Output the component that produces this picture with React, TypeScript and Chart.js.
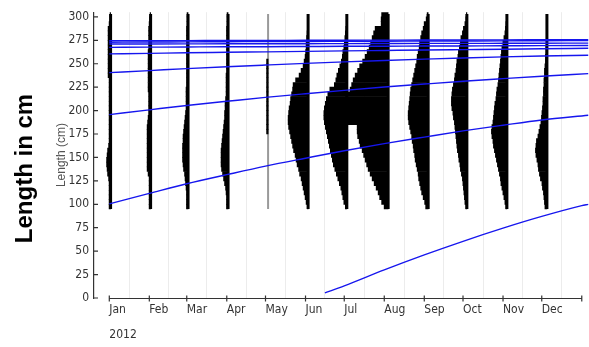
import { useEffect, useRef } from 'react';
import { Chart, registerables } from 'chart.js';

Chart.register(...registerables);

const FONT = '"Liberation Sans Narrow", "DejaVu Sans Condensed", "Liberation Sans", Arial, sans-serif';

const monthLabels = ['Jan', 'Feb', 'Mar', 'Apr', 'May', 'Jun', 'Jul', 'Aug', 'Sep', 'Oct', 'Nov', 'Dec'];
const yearLabel = '2012';
const monthStartDays = [0, 31, 60, 91, 121, 152, 182, 213, 244, 274, 305, 335, 366];
const yTickValues = [0, 25, 50, 75, 100, 125, 150, 175, 200, 225, 250, 275, 300];

// length-frequency bins (cm, bin centres)
const lengthBins = [
  97.5, 102.5, 107.5, 112.5, 117.5, 122.5, 127.5, 132.5, 137.5, 142.5,
  147.5, 152.5, 157.5, 162.5, 167.5, 172.5, 177.5, 182.5, 187.5, 192.5,
  197.5, 202.5, 207.5, 212.5, 217.5, 222.5, 227.5, 232.5, 237.5, 242.5,
  247.5, 252.5, 257.5, 262.5, 267.5, 272.5, 277.5, 282.5, 287.5, 292.5,
  297.5, 302.5,
];

// sampling day (day of year 2012) for each monthly sample
const sampleDays = [1, 32, 61, 92, 123, 154, 184, 216, 247, 277, 308, 339];
const sampleLineRange = [95, 303];

// relative frequencies per bin
const freqJan = [1.5,1.5,1.5,1.5,1.5,1.5,2,3,3.5,4,4,3.5,3,2,1.5,1.5,1.5,1.5,1.5,1.5,1.5,1.5,1.5,1.5,1.5,1.5,1.5,1.5,2.5,2.5,2.5,2.5,2.5,2.5,2.5,2.5,2.5,2.5,2.5,1.5,0.5,0.5];
const freqFeb = [1.5,1.5,1.5,1.5,1.5,1.5,1.5,2.5,3.5,3.5,3.5,3.5,3.5,3.5,3.5,3.5,3.5,3.5,3,2.5,2,2,2,2,2,2.5,2.5,2.5,2.5,2.5,2.5,2.5,2.5,2.5,2,2,2,2,2,1.5,1,0.5];
const freqMar = [1.5,1.5,1.5,1.5,2,2.5,3,3.5,4.5,5,5.5,5.5,5.5,5.5,5,5,4.5,4,3.5,3,2.5,2,2,2,2,2,1.5,1.5,1.5,1.5,1.5,1.5,1.5,1.5,1.5,1.5,1.5,1.5,1.5,1,1,1];
const freqApr = [1.5,1.5,1.5,2,2.5,3.5,4.5,5.5,6.5,7,7,7,7,6.5,6,5.5,5,4.5,4,3.5,3.5,3,3,2.5,2,2,2,2,2,1.5,1.5,1.5,1.5,1.5,1.5,1.5,1.5,1.5,1.5,1,1,1];
const freqMay = [0,0,0,0,0,0,0,0,0,0,0,0,0,0,0,0,1.5,1.5,1.5,1.5,1.5,1.5,1.5,1.5,1.5,1.5,1.5,1.5,1.5,1.5,1.5,1.5,0,0,0,0,0,0,0,0,0,0];
const freqJun = [0.5,2,3,4,5,6,7,8.5,9.5,11,12,13,14.5,15.5,16.5,17.5,18.5,19.5,20,20,19.5,19,18,17.5,16.5,15.5,15,12.5,9,7,5,4,3,2.5,2,2,1.5,1,0.5,0.5,0,0];
const freqJul = [1.5,3,4,5,6,7.5,9,10.5,12,13.5,14.5,15.5,16.5,17.5,18.5,19.5,20.5,21.5,22.5,23,23,22.5,21.5,20.5,19,17,12.5,11,10,8.5,7,5.5,4.5,4,3,2.5,2,1.5,1,0.5,0,0];
const freqAug = [4,6.5,8.5,10,12,14,16,18,20,21.5,23,24.5,26,28,29,30.5,31,31,42,43,43,43,42,42,41,38,36.5,35,33,30.5,28.5,25.5,23,21,19,17.5,16,14.5,13,7,7,6.5];
const freqSep = [2.5,3.5,5,6.5,7.5,8.5,9.5,10,11,12,13,13.5,14.5,15,16,16.5,17.5,18.5,19.5,20,20,19.5,19,18.5,18,17.5,16.5,15.5,14.5,13.5,12.5,11.5,11,10,9,8.5,7.5,6.5,5,4,2,1];
const freqOct = [1,2,2.5,3,3.5,4,4.5,5.5,6.5,7,8,8.5,9.5,10,10.5,11,11.5,12,12.5,13.5,14,15,15.5,15.5,15,14.5,13.5,12.5,12,11,10.5,10,9,8.5,7.5,6.5,6,4.5,3.5,2,1,0.5];
const freqNov = [1,2,3,4,5,6,6.5,7.5,8.5,9.5,10.5,11.5,12.5,13.5,14,15,15.5,15,14,13.5,13,12.5,12,11,10.5,10,9,8.5,8,7.5,7,6.5,6,5.5,5,4,3,2,1.5,1,0.5,0];
const freqDec = [2,2.5,3,3.5,4.5,5,6.5,7.5,8.5,9,10,11,11.5,11,10.5,9,8,7,6,5.5,5,4.5,4,4,3.5,3.5,3,3,2.5,2.5,2,1.5,1.5,1,1,0.5,0.5,0,0,0,0,0];
const monthlyFreqs = [freqJan, freqFeb, freqMar, freqApr, freqMay, freqJun, freqJul, freqAug, freqSep, freqOct, freqNov, freqDec];

// growth curves (cm) at day-of-year points
const curveDays = [0, 31, 60, 91, 121, 152, 182, 213, 244, 274, 305, 335, 371];
const cohortA = [100.5, 111.6, 121.9, 131.6, 140.7, 149.2, 157.2, 164.7, 171.7, 178.3, 184.4, 190, 195];
const cohortB = [195.7, 200.8, 205.5, 209.9, 214.1, 218, 221.6, 225.1, 228.3, 231.3, 234.1, 236.7, 239.5];
const cohortC = [240.5, 242.7, 244.8, 246.8, 248.6, 250.4, 252, 253.5, 254.9, 256.2, 257.3, 258.2, 259];
const cohortD = [260.5, 261.1, 261.7, 262.2, 262.7, 263.2, 263.7, 264.2, 264.7, 265.1, 265.5, 266, 266.5];
const cohortE = [267.5, 267.7, 267.9, 268.1, 268.2, 268.4, 268.6, 268.7, 268.9, 269, 269.2, 269.3, 269.5];
const cohortF = [271, 271.1, 271.2, 271.3, 271.3, 271.4, 271.5, 271.6, 271.7, 271.7, 271.8, 271.9, 272];
const cohortG = [273, 273.2, 273.3, 273.5, 273.6, 273.8, 273.9, 274, 274.2, 274.3, 274.4, 274.6, 274.7];
const cohortH = [274.5, 274.6, 274.7, 274.8, 274.9, 275, 275.1, 275.2, 275.3, 275.4, 275.5, 275.6, 275.7];
const cohorts = [cohortA, cohortB, cohortC, cohortD, cohortE, cohortF, cohortG, cohortH];
const recruitDays = [167, 182, 213, 244, 274, 305, 335, 366, 371];
const recruitLengths = [5.5, 13, 30, 46, 60.5, 74.5, 87, 98.5, 100];

const DAYS_PER_UNIT = 0.774;
const BLUE = 'rgb(22,22,238)';

const axesPlugin = {
  id: 'customAxes',
  afterDraw(chart: any) {
    const { ctx, chartArea, scales } = chart;
    const x = scales.x;
    const y = scales.y;
    ctx.save();
    ctx.strokeStyle = '#333';
    ctx.lineWidth = 1.2;
    const yb = Math.round(chartArea.bottom) + 0.5;
    ctx.beginPath();
    ctx.moveTo(x.getPixelForValue(0), yb);
    ctx.lineTo(x.getPixelForValue(366), yb);
    for (const d of monthStartDays) {
      const px = x.getPixelForValue(d);
      ctx.moveTo(px, yb - 3);
      ctx.lineTo(px, yb + 3);
    }
    const xl = chartArea.left;
    for (const v of yTickValues) {
      const py = y.getPixelForValue(v);
      ctx.moveTo(xl, py);
      ctx.lineTo(xl + 4, py);
    }
    ctx.stroke();
    ctx.fillStyle = '#000';
    ctx.font = 'bold 24px "Liberation Sans", Arial, sans-serif';
    ctx.translate(25, 168.5);
    ctx.rotate(-Math.PI / 2);
    ctx.textAlign = 'center';
    ctx.textBaseline = 'middle';
    ctx.fillText('Length in cm', 0, 0);
    ctx.restore();
  },
};

function buildDatasets() {
  const ds: any[] = [];
  sampleDays.forEach((day, m) => {
    ds.push({
      type: 'line',
      data: [{ x: day, y: sampleLineRange[0] }, { x: day, y: sampleLineRange[1] }],
      borderColor: m === 4 ? '#9a9a9a' : '#000',
      borderWidth: m === 4 ? 2 : 3,
      pointRadius: 0,
      order: 3,
    });
  });
  monthlyFreqs.forEach((freqs, m) => {
    const day = sampleDays[m];
    const data: any[] = [];
    freqs.forEach((f, i) => {
      if (f > 0) data.push({ y: lengthBins[i], x: [day - f * DAYS_PER_UNIT, day] });
    });
    ds.push({
      type: 'bar',
      indexAxis: 'y',
      data,
      backgroundColor: '#000',
      borderWidth: 0,
      barPercentage: 1,
      categoryPercentage: 1,
      grouped: false,
      order: 2,
    });
  });
  cohorts.forEach((c) => {
    ds.push({
      type: 'line',
      data: curveDays.map((d, i) => ({ x: d, y: c[i] })),
      borderColor: BLUE,
      borderWidth: 1.4,
      pointRadius: 0,
      cubicInterpolationMode: 'monotone',
      order: 1,
    });
  });
  ds.push({
    type: 'line',
    data: recruitDays.map((d, i) => ({ x: d, y: recruitLengths[i] })),
    borderColor: BLUE,
    borderWidth: 1.3,
    pointRadius: 0,
    cubicInterpolationMode: 'monotone',
    order: 1,
  });
  return ds;
}

export default function App() {
  const ref = useRef<HTMLCanvasElement>(null);
  useEffect(() => {
    const chart = new Chart(ref.current as HTMLCanvasElement, {
      type: 'bar',
      data: { datasets: buildDatasets() },
      plugins: [axesPlugin],
      options: {
        animation: false,
        responsive: true,
        maintainAspectRatio: false,
        layout: { padding: { left: 44, top: 7.6, right: 0, bottom: 0 } },
        plugins: { legend: { display: false }, tooltip: { enabled: false }, title: { display: false } },
        scales: {
          x: {
            type: 'linear',
            min: -11.85,
            max: 371.6,
            offset: false,
            border: { display: false },
            grid: { display: true, color: '#ececec', lineWidth: 1, drawTicks: false },
            afterBuildTicks: (scale: any) => {
              scale.ticks = monthStartDays.map((v) => ({ value: v }));
            },
            afterFit: (scale: any) => {
              scale.height = 49;
            },
            ticks: {
              autoSkip: false,
              maxRotation: 0,
              minRotation: 0,
              align: 'start',
              padding: 0,
              color: '#333',
              font: { family: FONT, size: 12, lineHeight: '24.5px' },
              callback: (_v: any, i: number) => {
                if (i === 0) return [monthLabels[0], yearLabel];
                return monthLabels[i] ?? '';
              },
            },
          },
          y: {
            type: 'linear',
            min: 0,
            max: 305,
            offset: false,
            border: { display: true, color: '#333', width: 1.2 },
            grid: { display: false, drawTicks: false },
            afterBuildTicks: (scale: any) => {
              scale.ticks = yTickValues.map((v) => ({ value: v }));
            },
            afterFit: (scale: any) => {
              scale.width = 50;
            },
            ticks: {
              padding: 5,
              color: '#333',
              font: { family: FONT, size: 12 },
              callback: (v: any) => String(v),
            },
            title: {
              display: true,
              text: 'Length (cm)',
              color: '#555',
              font: { family: '"Liberation Sans", Arial, sans-serif', size: 12 },
              padding: { top: 10, bottom: 0 },
            },
          },
        },
      } as any,
    });
    return () => chart.destroy();
  }, []);
  return (
    <div style={{ position: 'fixed', left: 0, top: 0, width: 589, height: 347, background: '#fff' }}>
      <canvas ref={ref} />
    </div>
  );
}
